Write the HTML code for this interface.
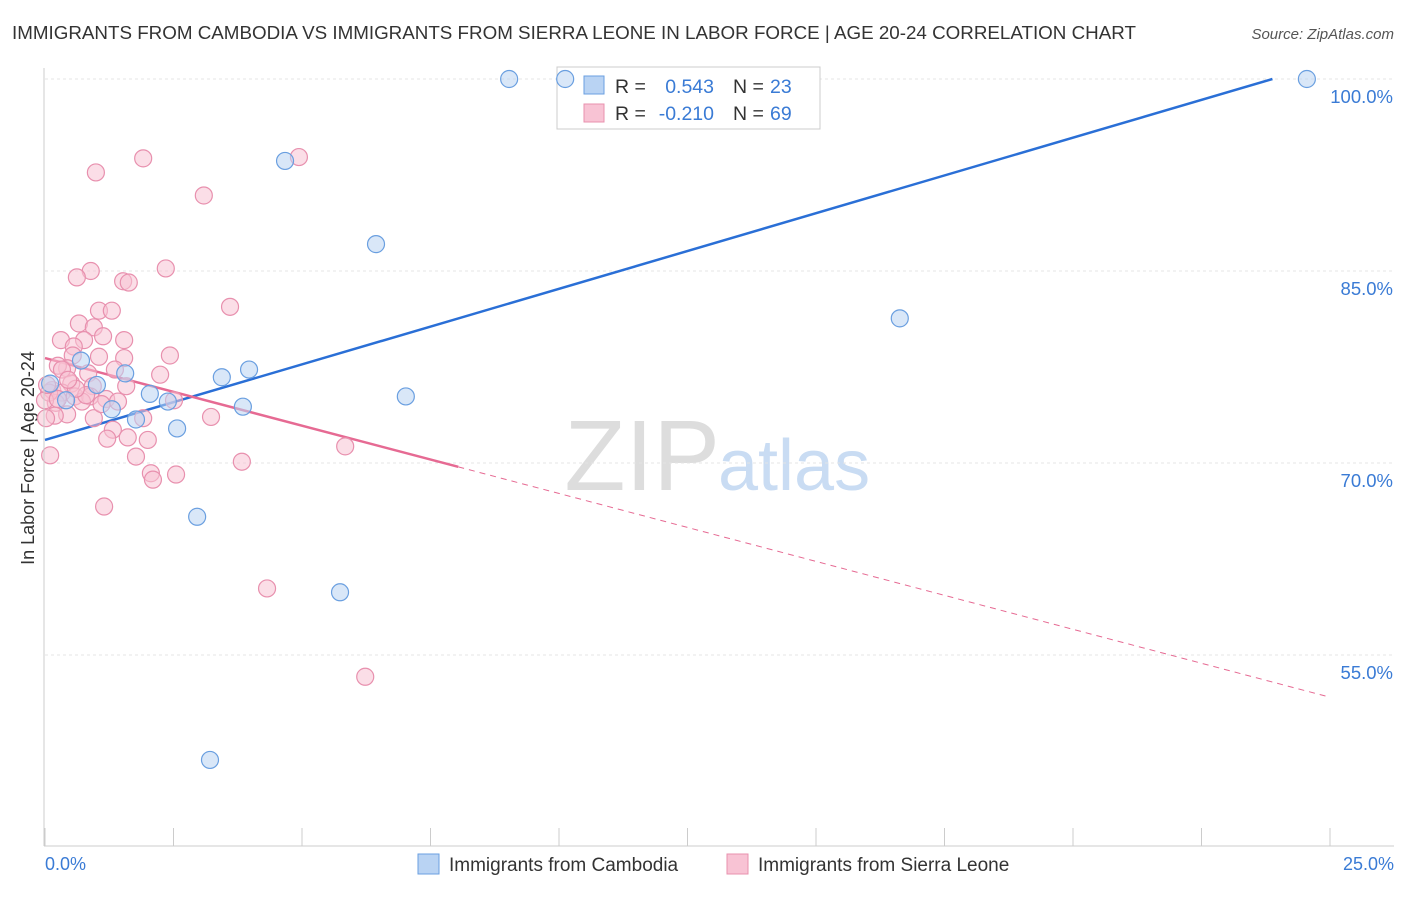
<!DOCTYPE html>
<html><head><meta charset="utf-8"><style>
body{margin:0;background:#fff;font-family:"Liberation Sans",sans-serif}
svg text{font-family:"Liberation Sans",sans-serif}
</style></head><body>
<svg id="c" width="1406" height="892" xmlns="http://www.w3.org/2000/svg">
<text x="12" y="39" font-size="18.8" fill="#333">IMMIGRANTS FROM CAMBODIA VS IMMIGRANTS FROM SIERRA LEONE IN LABOR FORCE | AGE 20-24 CORRELATION CHART</text>
<text x="1394" y="39" font-size="15" fill="#555" font-style="italic" text-anchor="end">Source: ZipAtlas.com</text>
<text x="720" y="490" font-size="100" fill="#ddd" font-family="Liberation Serif" text-anchor="end">ZIP</text>
<text x="718" y="490" font-size="72" fill="#c9dcf3">atlas</text>
<text x="34" y="458" font-size="18" fill="#333" text-anchor="middle" transform="rotate(-90 34 458)">In Labor Force | Age 20-24</text>
<g id="grid"></g><g id="ticks"></g>
<g>
<rect x="557" y="67" width="263" height="62" fill="#fff" stroke="#ccc"/>
<rect x="584" y="76" width="20" height="18" fill="#b9d3f3" stroke="#6a9fe0"/>
<rect x="584" y="104" width="20" height="18" fill="#f8c3d4" stroke="#e890ae"/>
<text x="615" y="93" font-size="19.5" fill="#333">R =</text>
<text x="714" y="93" font-size="19.5" fill="#3a7bd5" text-anchor="end">0.543</text>
<text x="733" y="93" font-size="19.5" fill="#333">N =</text>
<text x="770" y="93" font-size="19.5" fill="#3a7bd5">23</text>
<text x="615" y="120" font-size="19.5" fill="#333">R =</text>
<text x="714" y="120" font-size="19.5" fill="#3a7bd5" text-anchor="end">-0.210</text>
<text x="733" y="120" font-size="19.5" fill="#333">N =</text>
<text x="770" y="120" font-size="19.5" fill="#3a7bd5">69</text>
</g>
<g id="lines"></g><g id="pts"></g>
<line x1="44" y1="68" x2="44" y2="846" stroke="#ccc"/>
<line x1="44" y1="846" x2="1394" y2="846" stroke="#ccc"/>
<text x="45" y="870" font-size="18" fill="#3a7bd5">0.0%</text>
<text x="1394" y="870" font-size="18" fill="#3a7bd5" text-anchor="end">25.0%</text>
<g>
<rect x="418" y="854" width="21" height="20" fill="#b9d3f3" stroke="#6a9fe0"/>
<text x="449" y="871" font-size="19" fill="#333">Immigrants from Cambodia</text>
<rect x="727" y="854" width="21" height="20" fill="#f8c3d4" stroke="#e890ae"/>
<text x="758" y="871" font-size="19" fill="#333">Immigrants from Sierra Leone</text>
</g>
</svg>
<script>
const yTicks=[100,85,70,55];
const yTickLabels=["100.0%","85.0%","70.0%","55.0%"];
const xTicks=[0,2.5,5,7.5,10,12.5,15,17.5,20,22.5,25];
const cambX=[9.03,10.12,24.55,4.67,6.44,16.63,3.44,3.97,1.56,1.01,2.04,2.39,3.85,7.02,1.30,1.77,2.57,2.96,5.74,3.21,0.10,0.41,0.70];
const cambY=[100,100,100,93.6,87.1,81.3,76.7,77.3,77.0,76.1,75.4,74.8,74.4,75.2,74.2,73.4,72.7,65.8,59.9,46.8,76.2,74.9,78.0];
const sierX=[1.91,4.94,0.99,3.09,0.89,2.35,0.62,1.52,1.63,3.60,1.05,1.30,0.66,0.95,1.13,0.31,0.76,1.54,0.56,2.43,1.05,1.54,0.54,0.43,0.25,0.84,2.24,0.51,1.58,0.93,0.14,0.33,0.58,0.88,1.19,1.42,2.51,0.21,0.72,0.43,0.95,1.91,3.23,0.19,0.02,1.32,1.61,1.21,2.00,5.84,1.77,0.10,3.83,2.06,2.55,2.10,1.15,4.32,6.23,0.08,0.33,0.00,0.04,0.80,1.36,0.60,0.25,1.10,0.45];
const sierY=[93.8,93.9,92.7,90.9,85.0,85.2,84.5,84.2,84.1,82.2,81.9,81.9,80.9,80.6,79.9,79.6,79.6,79.6,79.1,78.4,78.3,78.2,78.4,77.4,77.6,77.0,76.9,76.2,76.0,76.0,75.7,75.5,75.2,75.2,75.0,74.8,74.9,74.7,74.8,73.8,73.5,73.5,73.6,73.7,73.5,72.6,72.0,71.9,71.8,71.3,70.5,70.6,70.1,69.2,69.1,68.7,66.6,60.2,53.3,75.5,77.3,74.9,76.1,75.3,77.3,75.8,75.0,74.6,76.5];
const cambTrend=[[0,71.8],[23.88,100]];
const sierTrend=[[0,78.2],[8.04,69.7],[25,51.7]];
const NS="http://www.w3.org/2000/svg";
const X=v=>45+v/25*1285, Y=v=>79+(100-v)*12.8;
function mk(t,a,p){const e=document.createElementNS(NS,t);for(const k in a)e.setAttribute(k,a[k]);document.getElementById(p).appendChild(e);return e;}
yTicks.forEach((t,i)=>{
 const g=mk('line',{x1:45,x2:1394,y1:Y(t),y2:Y(t),stroke:'#e4e4e4','stroke-dasharray':'3,3'},'grid');
 
 
 const l=mk('text',{x:1393,y:Y(t)+24,'font-size':18.5,fill:'#3a7bd5','text-anchor':'end'},'grid');
 l.textContent=yTickLabels[i];
 
 
});
xTicks.forEach(t=>{
 const e=mk('line',{x1:X(t),x2:X(t),y1:828,y2:846,stroke:'#ccc'},'ticks');
 
 
});
function dot(x,y,f,s,n){
 const c=mk('circle',{cx:X(x),cy:Y(y),r:8.5,fill:f,'fill-opacity':0.55,stroke:s,'stroke-width':1.2},'pts');
 
 
}
sierX.forEach((x,i)=>dot(x,sierY[i],'#f8c3d4','#e890ae','sierra-leone-point'));
cambX.forEach((x,i)=>dot(x,cambY[i],'#b9d3f3','#6a9fe0','cambodia-point'));
let e=mk('line',{x1:X(cambTrend[0][0]),y1:Y(cambTrend[0][1]),x2:X(cambTrend[1][0]),y2:Y(cambTrend[1][1]),stroke:'#2a6fd6','stroke-width':2.5},'lines');


e=mk('line',{x1:X(sierTrend[0][0]),y1:Y(sierTrend[0][1]),x2:X(sierTrend[1][0]),y2:Y(sierTrend[1][1]),stroke:'#e66a93','stroke-width':2.5},'lines');


e=mk('line',{x1:X(sierTrend[1][0]),y1:Y(sierTrend[1][1]),x2:X(sierTrend[2][0]),y2:Y(sierTrend[2][1]),stroke:'#e66a93','stroke-width':1,'stroke-dasharray':'6,5'},'lines');


</script>
</body></html>
